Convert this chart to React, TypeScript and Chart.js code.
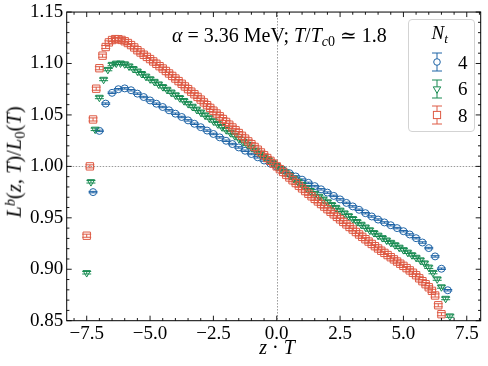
import React, { useEffect, useRef } from "react";
import { Chart, registerables } from "chart.js";

Chart.register(...registerables);

// ---- data -------------------------------------------------------------
const NT_LABELS = ["4", "6", "8"];
const NT_VALUES = [4, 6, 8];
// lattice index z of the first point of each series; z·T = z / Nt
const Z_START = [-29, -45, -60];

const L_NT4 = [
  0.975, 1.0345, 1.061, 1.0715, 1.075, 1.0758, 1.074, 1.0707, 1.0674, 1.0641,
  1.0609, 1.0577, 1.0545, 1.0512, 1.048, 1.0447, 1.0414, 1.0381, 1.0348, 1.0315,
  1.0282, 1.0249, 1.0217, 1.0184, 1.0152, 1.012, 1.0088, 1.0057, 1.0027, 0.9997,
  0.9966, 0.9934, 0.9902, 0.9871, 0.984, 0.9808, 0.9777, 0.9745, 0.9713, 0.9679,
  0.9645, 0.9611, 0.9578, 0.9545, 0.9513, 0.9483, 0.9455, 0.9428, 0.94, 0.937,
  0.9338, 0.9302, 0.926, 0.9206, 0.9125, 0.9005, 0.8796,
];

const L_NT6 = [
  0.8966, 0.985, 1.036, 1.067, 1.0845, 1.0941, 1.099, 1.1002, 1.1003, 1.0995,
  1.0975, 1.095, 1.0925, 1.0901, 1.0876, 1.085, 1.0825, 1.08, 1.0774, 1.0748,
  1.0721, 1.0694, 1.0667, 1.0639, 1.0611, 1.0583, 1.0555, 1.0527, 1.0499, 1.0471,
  1.0442, 1.0414, 1.0386, 1.0357, 1.0329, 1.03, 1.0271, 1.0242, 1.0214, 1.0185,
  1.0155, 1.0125, 1.0095, 1.0065, 1.0035, 1.0005, 0.9975, 0.9945, 0.9915, 0.9884,
  0.9854, 0.9824, 0.9794, 0.9764, 0.9736, 0.9708, 0.9681, 0.9654, 0.9627, 0.96,
  0.9573, 0.9546, 0.9519, 0.9491, 0.9463, 0.9436, 0.9409, 0.9382, 0.9355, 0.933,
  0.9306, 0.9283, 0.926, 0.9237, 0.9213, 0.9189, 0.9165, 0.914, 0.9115, 0.909,
  0.906, 0.902, 0.8968, 0.8905, 0.8828, 0.8716, 0.8545,
];

const L_NT8 = [
  0.9326, 1.0, 1.0456, 1.0755, 1.0954, 1.1076, 1.116, 1.1205, 1.1228, 1.1237,
  1.1236, 1.1229, 1.1216, 1.1199, 1.1179, 1.1156, 1.1129, 1.1107, 1.1085, 1.1064,
  1.1043, 1.102, 1.0997, 1.0974, 1.0951, 1.0927, 1.0903, 1.0879, 1.0854, 1.0829,
  1.0803, 1.0777, 1.0751, 1.0726, 1.0701, 1.0675, 1.0649, 1.0622, 1.0595, 1.0568,
  1.0541, 1.0514, 1.0487, 1.046, 1.0432, 1.0405, 1.0378, 1.0351, 1.0324, 1.0297,
  1.027, 1.0243, 1.0216, 1.0189, 1.0162, 1.0135, 1.0108, 1.0081, 1.0054, 1.0027,
  1.0, 0.9973, 0.9946, 0.9919, 0.9892, 0.9865, 0.9838, 0.9812, 0.9786, 0.976,
  0.9734, 0.9709, 0.9684, 0.9659, 0.9634, 0.9609, 0.9584, 0.9559, 0.9534, 0.9509,
  0.9485, 0.946, 0.9436, 0.9411, 0.9386, 0.9362, 0.9338, 0.9315, 0.9292, 0.9269,
  0.9246, 0.9224, 0.9202, 0.918, 0.9159, 0.9138, 0.9117, 0.9096, 0.9075, 0.9054,
  0.9033, 0.9011, 0.8989, 0.8966, 0.8942, 0.8912, 0.8884, 0.8855, 0.8825, 0.879,
  0.8745, 0.865, 0.8563,
];

const SERIES_VALUES = [L_NT4, L_NT6, L_NT8];
const SERIES_ERR = [0.0007, 0.0012, 0.0015];

const X_TICKS = [-7.5, -5.0, -2.5, 0.0, 2.5, 5.0, 7.5];
const Y_TICKS = [0.85, 0.9, 0.95, 1.0, 1.05, 1.1, 1.15];
const X_MIN = -8.29;
const X_MAX = 8.05;
const Y_MIN = 0.85;
const Y_MAX = 1.15;

// ---- style ------------------------------------------------------------
const COLORS = ["#1f64a6", "#168a50", "#de5a44"];
const STYLES = ["circle", "triangle", "rect"];
const RADII = [3.5, 4.3, 5.2];
const ROTATIONS = [0, 180, 0];
const CAP = 4.5;
const FONT = '"Liberation Serif", "DejaVu Serif", serif';

const sciAxesPlugin = {
  id: "sciAxes",
  beforeDatasetsDraw(chart: any) {
    const { ctx, chartArea: a, scales } = chart;
    const xs = scales.x;
    const ys = scales.y;
    ctx.save();
    // reference lines
    ctx.strokeStyle = "#9a9a9a";
    ctx.lineWidth = 1;
    ctx.setLineDash([1.5, 1.5]);
    const x0 = Math.round(xs.getPixelForValue(0)) + 0.5;
    ctx.beginPath();
    ctx.moveTo(x0, a.top);
    ctx.lineTo(x0, a.bottom);
    ctx.stroke();
    const y1 = Math.round(ys.getPixelForValue(1)) + 0.5;
    ctx.beginPath();
    ctx.moveTo(a.left, y1);
    ctx.lineTo(a.right, y1);
    ctx.stroke();
    ctx.setLineDash([]);
    // error bars
    chart.data.datasets.forEach((ds: any, di: number) => {
      if (!chart.isDatasetVisible(di)) return;
      ctx.strokeStyle = ds.borderColor;
      ctx.lineWidth = 1;
      ctx.beginPath();
      for (const p of ds.data) {
        const px = xs.getPixelForValue(p.x);
        const yt = ys.getPixelForValue(p.y + p.e);
        const yb = ys.getPixelForValue(p.y - p.e);
        ctx.moveTo(px, yt);
        ctx.lineTo(px, yb);
        ctx.moveTo(px - CAP, yt);
        ctx.lineTo(px + CAP, yt);
        ctx.moveTo(px - CAP, yb);
        ctx.lineTo(px + CAP, yb);
      }
      ctx.stroke();
    });
    ctx.restore();
  },
  afterDraw(chart: any) {
    const { ctx, chartArea: a, scales } = chart;
    const xs = scales.x;
    const ys = scales.y;
    ctx.save();
    ctx.strokeStyle = "#000";
    ctx.lineWidth = 1;
    ctx.strokeRect(a.left, a.top, a.right - a.left, a.bottom - a.top);
    const MAJ = 5;
    const MIN = 2.7;
    ctx.lineWidth = 0.9;
    ctx.beginPath();
    const xTick = (v: number, len: number) => {
      const px = xs.getPixelForValue(v);
      ctx.moveTo(px, a.bottom);
      ctx.lineTo(px, a.bottom - len);
      ctx.moveTo(px, a.top);
      ctx.lineTo(px, a.top + len);
    };
    const yTick = (v: number, len: number) => {
      const py = ys.getPixelForValue(v);
      ctx.moveTo(a.left, py);
      ctx.lineTo(a.left + len, py);
      ctx.moveTo(a.right, py);
      ctx.lineTo(a.right - len, py);
    };
    X_TICKS.forEach((v) => xTick(v, MAJ));
    for (let k = Math.ceil(X_MIN / 0.5); k <= Math.floor(X_MAX / 0.5); k++) {
      if (k % 5 !== 0) xTick(k * 0.5, MIN);
    }
    Y_TICKS.forEach((v) => yTick(v, MAJ));
    for (let k = Math.round(Y_MIN * 100); k <= Math.round(Y_MAX * 100); k++) {
      if (k % 5 !== 0) yTick(k / 100, MIN);
    }
    ctx.stroke();
    ctx.restore();
  },
};

const fmtMinus = (s: string) => s.replace("-", "\u2212");

function Sub({ children }: { children: any }) {
  return (
    <span style={{ fontSize: "0.7em", position: "relative", top: "0.3em" }}>
      {children}
    </span>
  );
}
function Sup({ children }: { children: any }) {
  return (
    <span style={{ fontSize: "0.7em", position: "relative", top: "-0.45em" }}>
      {children}
    </span>
  );
}

function LegendSymbol({ idx, cx, cy }: { idx: number; cx: number; cy: number }) {
  const c = COLORS[idx];
  const w = 20;
  const h = 24;
  const mx = w / 2;
  const my = h / 2;
  let marker: any = null;
  if (idx === 0) {
    marker = <circle cx={mx} cy={my} r={3.3} fill="#fff" stroke={c} strokeWidth={1} />;
  } else if (idx === 1) {
    const r = 4.3;
    const pts = `${mx},${my + r} ${mx - r * 0.866},${my - r / 2} ${mx + r * 0.866},${my - r / 2}`;
    marker = <polygon points={pts} fill="#fff" stroke={c} strokeWidth={1} />;
  } else {
    const s = 7.2;
    marker = <rect x={mx - s / 2} y={my - s / 2} width={s} height={s} fill="#fff" stroke={c} strokeWidth={1} />;
  }
  return (
    <svg
      width={w}
      height={h}
      style={{ position: "absolute", left: cx - w / 2, top: cy - h / 2 }}
    >
      <line x1={mx} y1={my - 9} x2={mx} y2={my + 9} stroke={c} strokeWidth={1} />
      <line x1={mx - 5} y1={my - 9} x2={mx + 5} y2={my - 9} stroke={c} strokeWidth={1} />
      <line x1={mx - 5} y1={my + 9} x2={mx + 5} y2={my + 9} stroke={c} strokeWidth={1} />
      {marker}
    </svg>
  );
}

export default function App() {
  const ref = useRef<HTMLCanvasElement | null>(null);

  useEffect(() => {
    const datasets = SERIES_VALUES.map((vals, s) => ({
      label: "N_t = " + NT_LABELS[s],
      data: vals.map((v, i) => ({
        x: (Z_START[s] + i) / NT_VALUES[s],
        y: v,
        e: SERIES_ERR[s],
      })),
      pointStyle: STYLES[s],
      pointRadius: RADII[s],
      pointRotation: ROTATIONS[s],
      borderColor: COLORS[s],
      backgroundColor: "rgba(255,255,255,0)",
      borderWidth: 1,
      showLine: false,
      order: 2 - s,
    }));

    const chart = new Chart(ref.current as HTMLCanvasElement, {
      type: "scatter",
      data: { datasets } as any,
      plugins: [sciAxesPlugin as any],
      options: {
        responsive: false,
        maintainAspectRatio: false,
        devicePixelRatio: 1,
        animation: false,
        events: [],
        layout: { padding: { left: 0, right: 7.3, top: 9.3, bottom: 0 } },
        plugins: {
          legend: { display: false },
          tooltip: { enabled: false },
          title: { display: false },
        },
        scales: {
          x: {
            type: "linear",
            min: X_MIN,
            max: X_MAX,
            grid: { display: false, drawTicks: false },
            border: { display: false },
            afterBuildTicks: (axis: any) => {
              axis.ticks = X_TICKS.map((v) => ({ value: v }));
            },
            afterFit: (axis: any) => {
              axis.height = 45.3;
            },
            ticks: {
              autoSkip: false,
              maxRotation: 0,
              padding: 4,
              color: "#000",
              font: { family: FONT, size: 19, lineHeight: 1 },
              callback: (v: any) => fmtMinus(Number(v).toFixed(1)),
            },
          },
          y: {
            type: "linear",
            min: Y_MIN,
            max: Y_MAX,
            grid: { display: false, drawTicks: false },
            border: { display: false },
            afterBuildTicks: (axis: any) => {
              axis.ticks = Y_TICKS.map((v) => ({ value: v }));
            },
            afterFit: (axis: any) => {
              axis.width = 66.7;
            },
            ticks: {
              autoSkip: false,
              padding: 3.5,
              color: "#000",
              font: { family: FONT, size: 19, lineHeight: 0.9 },
              callback: (v: any) => Number(v).toFixed(2),
            },
          },
        },
      } as any,
    });
    return () => chart.destroy();
  }, []);

  const legendRows = [61.8, 88.5, 115.2];

  return (
    <div
      style={{
        position: "fixed",
        left: 0,
        top: 0,
        width: 488,
        height: 366,
        background: "#fff",
        fontFamily: FONT,
        color: "#000",
        overflow: "hidden",
      }}
    >
      <canvas
        ref={ref}
        width={488}
        height={366}
        style={{ position: "absolute", left: 0, top: 0, width: 488, height: 366 }}
      />
      {/* annotation */}
      <div
        style={{
          position: "absolute",
          left: 172,
          top: 25,
          fontSize: 20,
          lineHeight: "20px",
          whiteSpace: "nowrap",
        }}
      >
        <i>α</i> = 3.36 MeV; <i>T</i>/<i>T</i>
        <Sub>
          <i>c</i>0
        </Sub>{" "}
        ≃ 1.8
      </div>
      {/* legend */}
      <div
        style={{
          position: "absolute",
          left: 408,
          top: 19,
          width: 67,
          height: 113,
          boxSizing: "border-box",
          border: "1px solid #d3d3d3",
          borderRadius: 4,
          background: "rgba(255,255,255,0.8)",
        }}
      />
      <div
        style={{
          position: "absolute",
          left: 431.5,
          top: 23.4,
          fontSize: 19,
          lineHeight: "19px",
          whiteSpace: "nowrap",
        }}
      >
        <i>N</i>
        <Sub>
          <i>t</i>
        </Sub>
      </div>
      {NT_LABELS.map((lab, i) => (
        <React.Fragment key={lab}>
          <LegendSymbol idx={i} cx={436.7} cy={legendRows[i]} />
          <div
            style={{
              position: "absolute",
              left: 458,
              top: legendRows[i] + 6.6 - 15.9,
              fontSize: 19,
              lineHeight: "19px",
            }}
          >
            {lab}
          </div>
        </React.Fragment>
      ))}
      {/* x title */}
      <div
        style={{
          position: "absolute",
          left: 277,
          top: 337.3,
          transform: "translateX(-50%)",
          fontSize: 20,
          lineHeight: "20px",
          whiteSpace: "nowrap",
        }}
      >
        <i>z</i> · <i>T</i>
      </div>
      {/* y title */}
      <div
        style={{
          position: "absolute",
          left: 14.7,
          top: 162,
          transform: "translate(-50%, -50%) rotate(-90deg)",
          fontSize: 20.5,
          lineHeight: "20.5px",
          whiteSpace: "nowrap",
        }}
      >
        <i>L</i>
        <Sup>
          <i>b</i>
        </Sup>
        (<i>z</i>, <i>T</i>)/<i>L</i>
        <Sub>0</Sub>(<i>T</i>)
      </div>
    </div>
  );
}
